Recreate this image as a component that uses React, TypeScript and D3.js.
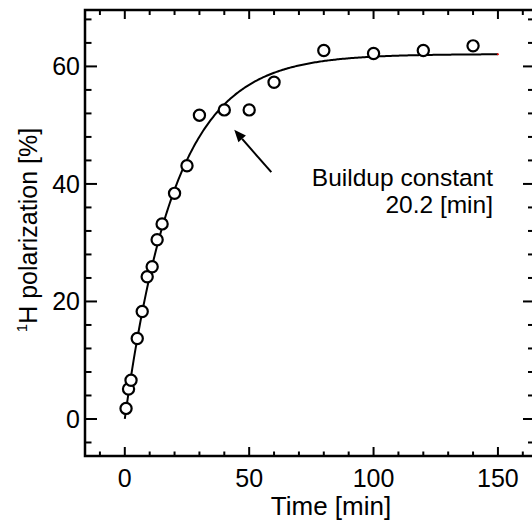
import React from "react";
import * as d3 from "d3";

// measured points
const times = [0.5, 1.5, 2.5, 5, 7, 9, 11, 13, 15, 20, 25, 30, 40, 50, 60, 80, 100, 120, 140];
const polarization = [1.8, 5.1, 6.6, 13.7, 18.3, 24.2, 25.9, 30.5, 33.2, 38.4, 43.1, 51.7, 52.6, 52.6, 57.3, 62.7, 62.2, 62.7, 63.5];

// fit parameters
const fitAmplitude = 62.1;
const fitTau = 20.2;
const fitEnd = 150;

const xMajor = [0, 50, 100, 150];
const yMajor = [0, 20, 40, 60];

const W = 532;
const H = 520;
const frame = { left: 85, right: 534, top: 10, bottom: 456 };
const font = "'Liberation Sans', Arial, sans-serif";

const App = () => {
  const x = d3.scaleLinear().domain([-16, 164.5]).range([frame.left, frame.right]);
  const y = d3.scaleLinear().domain([-6.3, 69.6]).range([frame.bottom, frame.top]);

  const xMinor = d3.range(-10, 165, 10).filter((v) => v % 50 !== 0);
  const yMinor = d3.range(-4, 70, 4).filter((v) => v % 20 !== 0);

  const fitT = d3.range(0, fitEnd + 0.25, 0.5);
  const fitLine = d3
    .line<number>()
    .x((t) => x(t))
    .y((t) => y(fitAmplitude * (1 - Math.exp(-t / fitTau))));

  const points = times.map((t, i) => ({ t, p: polarization[i] }));

  // arrow (data coords)
  const tip = { t: 44.0, p: 49.2 };
  const tail = { t: 58.9, p: 42.0 };
  const ax1 = x(tip.t), ay1 = y(tip.p), ax2 = x(tail.t), ay2 = y(tail.p);
  const ang = Math.atan2(ay2 - ay1, ax2 - ax1);
  const headL = 12, headW = 5;
  const bx = ax1 + headL * Math.cos(ang), by = ay1 + headL * Math.sin(ang);
  const head = [
    [ax1, ay1],
    [bx + headW * Math.sin(ang), by - headW * Math.cos(ang)],
    [bx - headW * Math.sin(ang), by + headW * Math.cos(ang)],
  ];

  return (
    <svg
      width={W}
      height={H}
      style={{ position: "absolute", left: 0, top: 0, background: "#fff" }}
      fontFamily={font}
    >
      {/* frame */}
      <rect
        x={frame.left}
        y={frame.top}
        width={frame.right - frame.left}
        height={frame.bottom - frame.top}
        fill="none"
        stroke="#000"
        strokeWidth={2.5}
      />

      {/* bottom / top ticks */}
      <g stroke="#000" strokeWidth={2}>
        {xMajor.map((v) => (
          <g key={"xm" + v}>
            <line x1={x(v)} x2={x(v)} y1={frame.bottom} y2={frame.bottom - 9} />
            <line x1={x(v)} x2={x(v)} y1={frame.top} y2={frame.top + 9} />
          </g>
        ))}
        {xMinor.map((v) => (
          <g key={"xn" + v}>
            <line x1={x(v)} x2={x(v)} y1={frame.bottom} y2={frame.bottom - 4.5} />
            <line x1={x(v)} x2={x(v)} y1={frame.top} y2={frame.top + 5} />
          </g>
        ))}
        {yMajor.map((v) => (
          <g key={"ym" + v}>
            <line x1={frame.left} x2={frame.left + 12} y1={y(v)} y2={y(v)} />
            <line x1={frame.right} x2={frame.right - 11} y1={y(v)} y2={y(v)} />
          </g>
        ))}
        {yMinor.map((v) => (
          <g key={"yn" + v}>
            <line x1={frame.left} x2={frame.left + 6.5} y1={y(v)} y2={y(v)} />
            <line x1={frame.right} x2={frame.right - 6} y1={y(v)} y2={y(v)} />
          </g>
        ))}
      </g>

      {/* tick labels */}
      <g fontSize={25} fill="#000">
        {xMajor.map((v) => (
          <text key={"xl" + v} x={x(v)} y={487} textAnchor="middle">
            {v}
          </text>
        ))}
        {yMajor.map((v) => (
          <text key={"yl" + v} x={80} y={y(v) + 9} textAnchor="end">
            {v}
          </text>
        ))}
      </g>

      {/* axis titles */}
      <text x={331} y={515} textAnchor="middle" fontSize={26}>
        Time [min]
      </text>
      <text
        transform={`translate(37, ${230}) rotate(-90)`}
        textAnchor="middle"
        fontSize={25}
      >
        <tspan fontSize={15} dy={-10}>1</tspan>
        <tspan dy={10}>H polarization [%]</tspan>
      </text>

      {/* fit curve */}
      <path d={fitLine(fitT) ?? ""} fill="none" stroke="#000" strokeWidth={2} />
      <circle cx={x(fitEnd)} cy={y(fitAmplitude * (1 - Math.exp(-fitEnd / fitTau)))} r={1} fill="#e00" />

      {/* data */}
      {points.map((d, i) => (
        <circle
          key={i}
          cx={x(d.t)}
          cy={y(d.p)}
          r={5.6}
          fill="#fff"
          stroke="#000"
          strokeWidth={2.2}
        />
      ))}

      {/* annotation */}
      <line x1={bx} y1={by} x2={ax2} y2={ay2} stroke="#000" strokeWidth={2} />
      <polygon points={head.map((p) => p.join(",")).join(" ")} fill="#000" />
      <g fontSize={24.5} textAnchor="end">
        <text x={493} y={186}>Buildup constant</text>
        <text x={493} y={213}>20.2 [min]</text>
      </g>
    </svg>
  );
};

export default App;
